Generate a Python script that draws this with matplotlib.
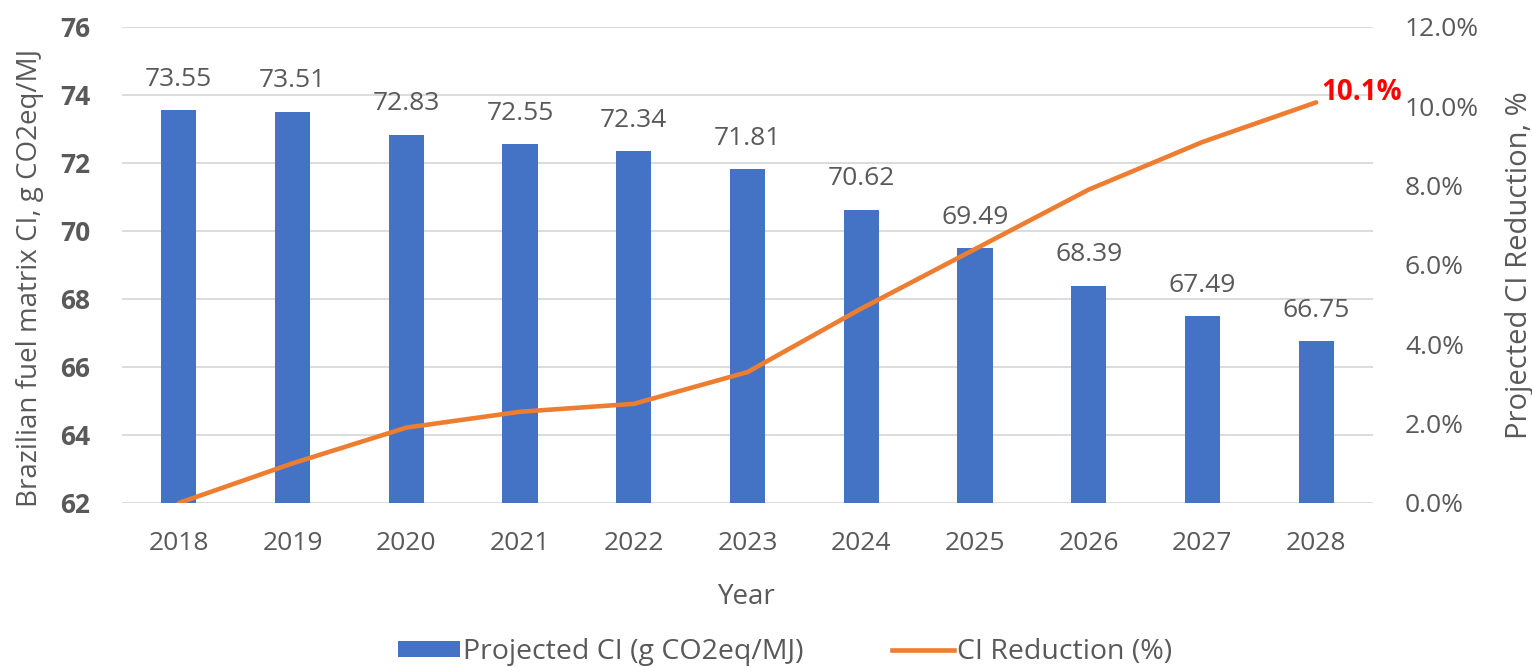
import matplotlib.pyplot as plt
from matplotlib.ticker import FuncFormatter
from matplotlib.patches import Patch
from matplotlib.lines import Line2D

# chart data
years = ["2018", "2019", "2020", "2021", "2022", "2023", "2024", "2025", "2026", "2027", "2028"]
projected_ci = [73.55, 73.51, 72.83, 72.55, 72.34, 71.81, 70.62, 69.49, 68.39, 67.49, 66.75]
ci_reduction = [0.0, 1.0, 1.9, 2.3, 2.5, 3.3, 4.9, 6.4, 7.9, 9.1, 10.1]
last_label = "10.1%"

plt.rcParams['font.family'] = ['Open Sans', 'DejaVu Sans']
grey = '#595959'
blue = '#4472C4'
orange = '#ED7D31'
W, H = 1532, 667

fig = plt.figure(figsize=(W / 100, H / 100), dpi=100)
ax = fig.add_axes([122 / W, 1 - 503 / H, (1373 - 122) / W, (503 - 27) / H])

x = range(len(years))
ax.bar(x, projected_ci, width=0.31, color=blue, zorder=2)
ax.set_ylim(62, 76)
ax.set_xlim(-0.5, 10.5)
ax.set_yticks(range(62, 77, 2))
ax.set_xticks(list(x))
ax.set_xticklabels(years)
ax.grid(axis='y', color='#D9D9D9', linewidth=1.3, zorder=0)
for s in ax.spines.values():
    s.set_visible(False)
ax.tick_params(length=0, labelsize=19, colors=grey)
ax.tick_params(axis='x', pad=20)
ax.tick_params(axis='y', pad=23)
for lab in ax.get_yticklabels():
    lab.set_fontweight('bold')
for i, v in enumerate(projected_ci):
    ax.text(i, v + 0.72, f"{v:.2f}", ha='center', va='baseline', fontsize=19, color=grey)

ax2 = ax.twinx()
ax2.plot(list(x), ci_reduction, color=orange, linewidth=3.3, zorder=3, solid_capstyle='round')
ax2.set_ylim(0, 12)
ax2.set_yticks(range(0, 13, 2))
ax2.yaxis.set_major_formatter(FuncFormatter(lambda v, p: f"{v:.1f}%"))
for s in ax2.spines.values():
    s.set_visible(False)
ax2.tick_params(length=0, labelsize=19, colors=grey, pad=23)
ax2.text(len(years) - 1 + 0.045, ci_reduction[-1] + 0.25, last_label, color='#FF0000', fontsize=20,
         fontweight='bold', ha='left', va='center')

# axis titles
fig.text(747 / W, 1 - 597 / H, "Year", fontsize=20, color=grey, ha='center', va='center')
fig.text(30 / W, 1 - 278 / H, "Brazilian fuel matrix CI, g CO2eq/MJ", fontsize=20, color=grey,
         rotation=90, ha='center', va='center')
fig.text(1520 / W, 1 - 265 / H, "Projected CI Reduction, %", fontsize=21, color=grey,
         rotation=90, ha='center', va='center')

handles = [Patch(facecolor=blue), Line2D([0], [0], color=orange, linewidth=3.3)]
fig.legend(handles, ["Projected CI (g CO2eq/MJ)", "CI Reduction (%)"], loc='center',
           bbox_to_anchor=(785 / W, 1 - 652 / H), ncol=2, frameon=False, fontsize=20.5,
           labelcolor=grey, columnspacing=3.1, handlelength=2.2, handleheight=0.5,
           handletextpad=0.1, borderpad=0)

fig.savefig("out.png", dpi=100)
